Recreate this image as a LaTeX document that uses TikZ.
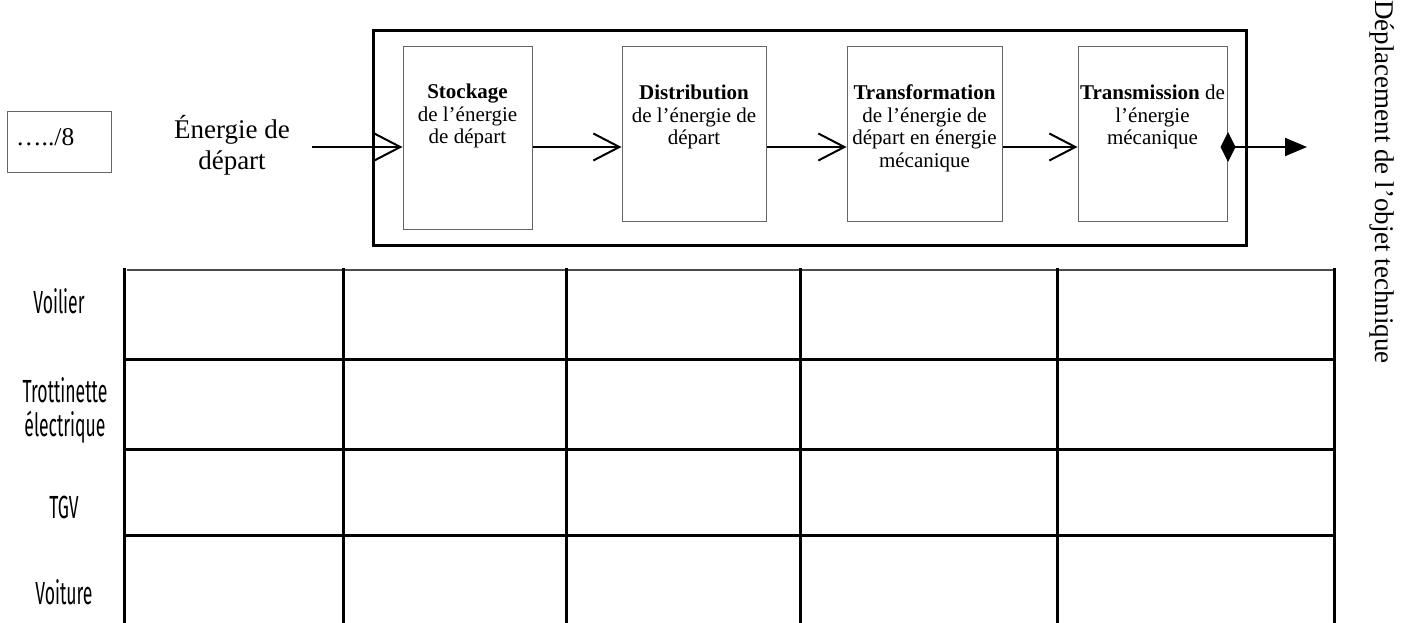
\documentclass[tikz,border=0pt]{standalone}
\usepackage{fontspec}
\setmainfont{Liberation Serif}
\newfontfamily\labfont[FakeStretch=0.55]{Fira Sans}
\usetikzlibrary{arrows.meta}
\begin{document}
\begin{tikzpicture}[x=1pt,y=-1pt,
  fbox/.style={draw=black!60, line width=1pt, inner sep=0pt},
  btxt/.style={align=center, inner sep=0pt, anchor=north, font=\fontsize{21}{22.5}\selectfont},
  flow/.style={line width=2pt, -{Straight Barb[length=26pt,width=27pt]}},
  grid/.style={line width=3pt},
  rowlab/.style={align=center, inner sep=0pt, font=\labfont\fontsize{32}{34}\selectfont}]
\useasboundingbox (0,0) rectangle (1412,623);
% score box
\node[draw=black!60, line width=1pt, minimum width=104pt, minimum height=60pt, inner sep=0pt] (score) at (59,142) {};
\node[anchor=base west, inner sep=0pt, font=\fontsize{25.5}{28}\selectfont] (scoretxt) at (16,146) {…../8};
% input energy
\node[align=center, inner sep=0pt, font=\fontsize{27}{31}\selectfont] (ein) at (232,145) {Énergie de\\départ};
\coordinate (inA) at (312,147);
% outer frame
\node[draw, line width=3pt, minimum width=873pt, minimum height=214pt, inner sep=0pt] (frame) at (809.5,138) {};
% function boxes
\node[fbox, minimum width=129pt, minimum height=182pt] (sto) at (467.5,138) {};
\node[fbox, minimum width=144pt, minimum height=174pt] (dis) at (694,134) {};
\node[fbox, minimum width=155pt, minimum height=174pt] (tra) at (924.5,134) {};
\node[fbox, minimum width=149pt, minimum height=174pt] (tms) at (1152.5,134) {};
\node[btxt] (stot) at (467.5,84) {\textbf{Stockage}\\de l’énergie\\de départ};
\node[btxt] (dist) at (694,85) {\textbf{Distribution}\\de l’énergie de\\départ};
\node[btxt] (trat) at (924.5,85) {\textbf{Transformation}\\de l’énergie de\\départ en énergie\\mécanique};
\node[btxt] (tmst) at (1152.5,85) {\textbf{Transmission} de\\l’énergie\\mécanique};
% arrows
\draw[flow] (inA) -- (sto.west |- inA);
\draw[flow] (sto.east |- inA) -- (dis.west |- inA);
\draw[flow] (dis.east |- inA) -- (tra.west |- inA);
\draw[flow] (tra.east |- inA) -- (tms.west |- inA);
\coordinate (outB) at (1307,147);
\draw[line width=2pt, {Diamond[length=15pt,width=30pt]}-{Triangle[length=22pt,width=18pt]}] ([xshift=-7pt]tms.east |- inA) -- (outB);
\node[rotate=-90, inner sep=0pt, font=\fontsize{27}{30}\selectfont] (depl) at (1382,182) {Déplacement de l’objet technique};
% table
\draw[line width=2pt, black!70] (127,270) -- (1334,270);
\foreach \x in {124,343,566,800,1057,1334} \draw[grid] (\x,268) -- (\x,623);
\foreach \y in {359,449,535} \draw[grid] (124,\y) -- (1334,\y);
\node[rowlab] (r1) at (59,301) {Voilier};
\node[rowlab] (r2) at (65,410) {Trottinette\\électrique};
\node[rowlab] (r3) at (64,507) {TGV};
\node[rowlab] (r4) at (64,592) {Voiture};
\end{tikzpicture}
\end{document}
